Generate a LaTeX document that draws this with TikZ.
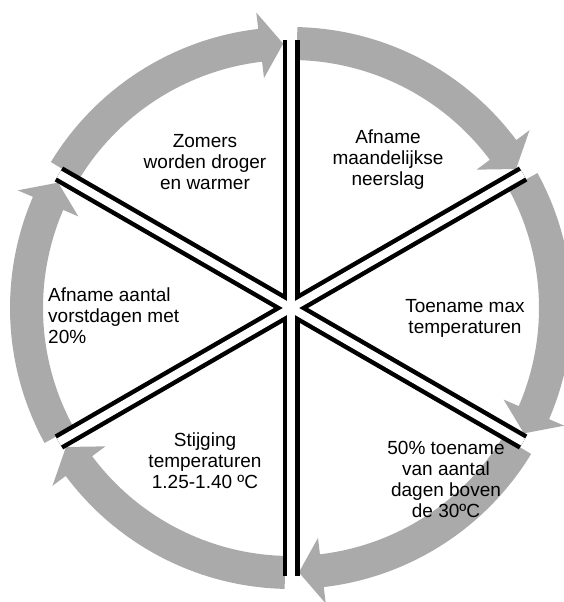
\documentclass[tikz,border=0pt]{standalone}
\usepackage{fontspec}
\setmainfont{Liberation Sans}
\usepackage{tikz}
\definecolor{ringgray}{HTML}{AAAAAA}

% one grey arc of the ring, from the spoke at #1 clockwise to the next spoke
\newcommand{\ringarrow}[1]{%
  \fill[ringgray] ({#1-1.3}:281) arc[start angle={#1-1.3}, end angle={#1-53.3}, radius=281]
    -- ({#1-53.3}:297.5) -- ({#1-58.3}:264.5) -- ({#1-53.3}:231.5) -- ({#1-53.3}:248)
    arc[start angle={#1-53.3}, end angle={#1-1.3}, radius=248] -- cycle;}

\begin{document}
\begin{tikzpicture}[x=1pt, y=1pt,
  every node/.style={font=\fontsize{19}{21}\selectfont, align=center, inner sep=0pt},
  spokeout/.style={line width=17pt, black},
  spokein/.style={line width=8pt, white}
]
  \useasboundingbox (-291,-294) rectangle (273,308);
  \coordinate (c) at (0,0);
  \coordinate (s1) at (90:268);
  \coordinate (s2) at (30:268);
  \coordinate (s3) at (-30:268);
  \coordinate (s4) at (-90:268);
  \coordinate (s5) at (-150:268);
  \coordinate (s6) at (150:268);

  \ringarrow{90}
  \ringarrow{30}
  \ringarrow{-30}
  \ringarrow{-90}
  \ringarrow{-150}
  \ringarrow{150}

  \draw[spokeout] (c) -- (s1);
  \draw[spokeout] (c) -- (s2);
  \draw[spokeout] (c) -- (s3);
  \draw[spokeout] (c) -- (s4);
  \draw[spokeout] (c) -- (s5);
  \draw[spokeout] (c) -- (s6);
  \draw[spokein] (c) -- (s1);
  \draw[spokein] (c) -- (s2);
  \draw[spokein] (c) -- (s3);
  \draw[spokein] (c) -- (s4);
  \draw[spokein] (c) -- (s5);
  \draw[spokein] (c) -- (s6);

  \node (dry) at (-86,146) {Zomers\\worden droger\\en warmer};
  \node (rain) at (97,148) {Afname\\maandelijkse\\neerslag};
  \node (tmax) at (174,-10) {Toename max\\temperaturen};
  \node (hot) at (155,-171) {50\% toename\\van aantal\\dagen boven\\de 30ºC};
  \node (rise) at (-86,-153) {Stijging\\temperaturen\\1.25-1.40 ºC};
  \node[anchor=west, align=left] (frost) at (-243,-8) {Afname aantal\\vorstdagen met\\20\%};
\end{tikzpicture}
\end{document}
